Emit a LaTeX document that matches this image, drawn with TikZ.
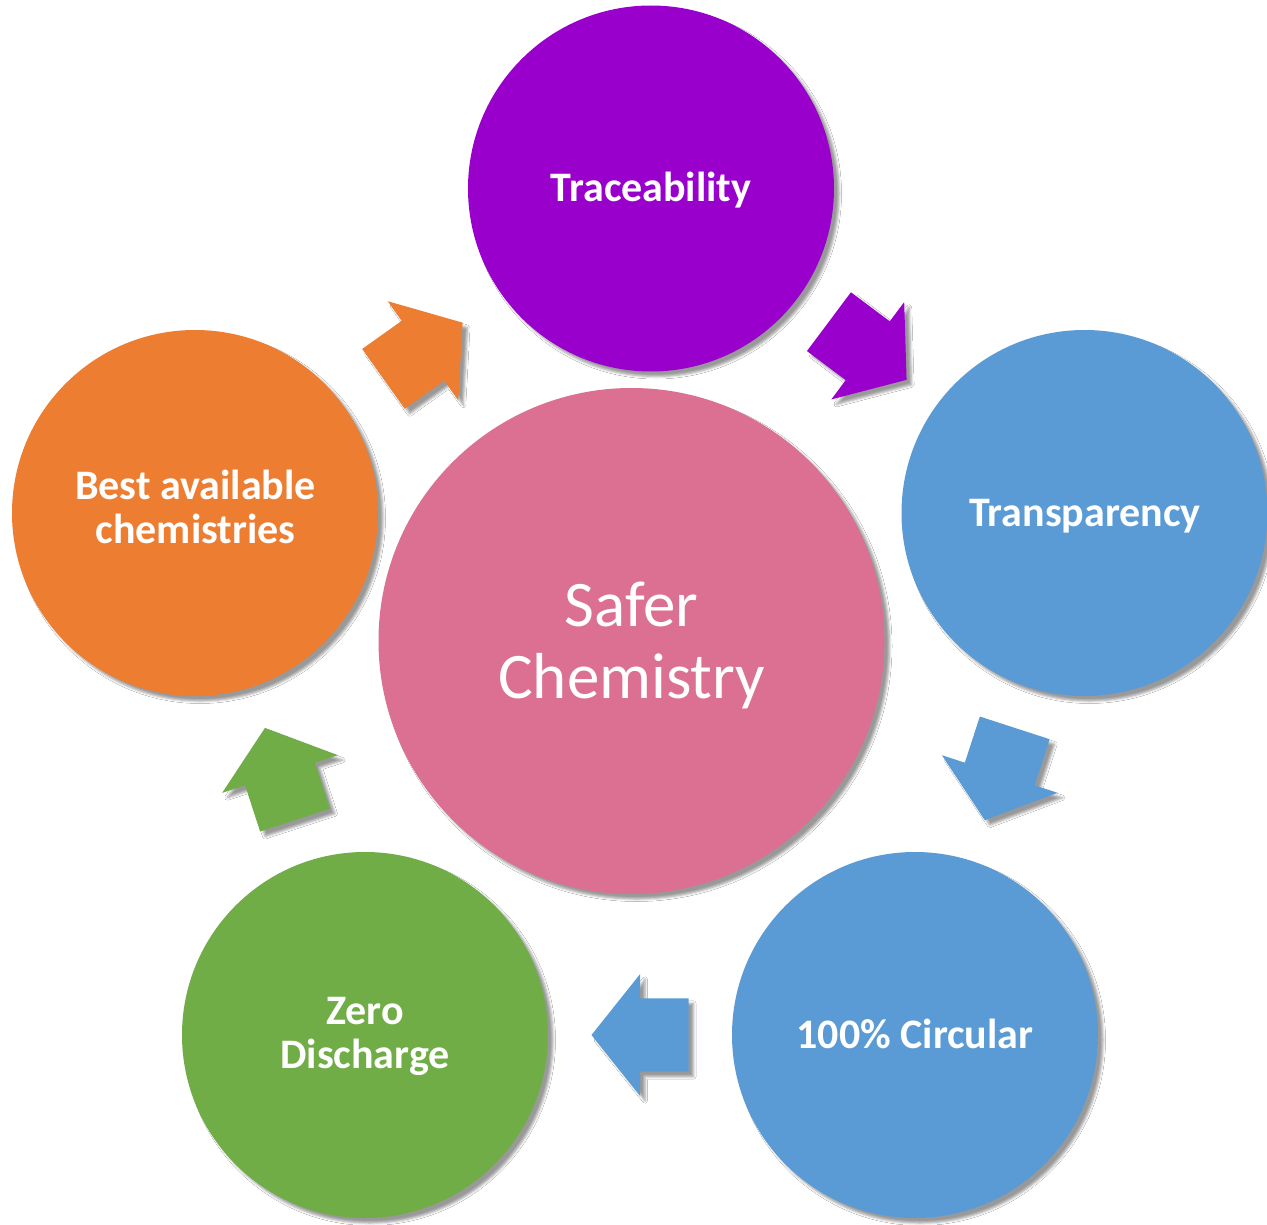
\documentclass[tikz,border=0pt]{standalone}
\usepackage{fontspec}
\setmainfont{Carlito}
\usetikzlibrary{calc,shadows.blur}
\definecolor{cpurple}{RGB}{153,0,204}
\definecolor{cblue}{RGB}{91,155,213}
\definecolor{corange}{RGB}{237,125,49}
\definecolor{cgreen}{RGB}{112,173,71}
\definecolor{cpink}{RGB}{219,112,147}
\tikzset{
  softshadow/.style={blur shadow={shadow xshift=5pt, shadow yshift=-5pt, shadow blur radius=2.5pt, shadow opacity=40}},
  outer/.style={circle, minimum size=366pt, inner sep=0pt, fill=#1, softshadow},
  inner/.style={circle, minimum size=506pt, inner sep=0pt, fill=#1, softshadow},
  lbl/.style={text=white, font=\fontsize{42}{44}\selectfont\bfseries, align=center, anchor=base, inner sep=0pt},
  biglbl/.style={text=white, font=\fontsize{65}{71.6}\selectfont, align=center, anchor=base, inner sep=0pt}
}
\newcommand\blockarrow[3]{%
  \coordinate (bm) at ($(#1)!0.5!(#2)$);
  \coordinate (bt) at ($(bm)!-48.5pt!(#2)$);
  \fill[#3, softshadow] ($(bm)!48.5pt!(#2)$) -- ($(bm)!60.8pt!90:(#2)$) -- ($(bm)!36.7pt!90:(#2)$)
     -- ($(bt)!36.7pt!90:(#2)$) -- ($(bt)!36.7pt!-90:(#2)$) -- ($(bm)!36.7pt!-90:(#2)$)
     -- ($(bm)!60.8pt!-90:(#2)$) -- cycle;
}
\begin{document}
\begin{tikzpicture}[x=1pt,y=-1pt]
\useasboundingbox[fill=white] (0,0) rectangle (1267,1225);
% outer circles
\node[outer=cpurple] (trace) at (651,188.5) {};
\node[outer=cblue] (transp) at (1084.5,513) {};
\node[outer=cblue] (circ) at (915,1035) {};
\node[outer=cgreen] (zero) at (365,1035) {};
\node[outer=corange] (best) at (195,513) {};
% centre circle
\node[inner=cpink] (safer) at (631.5,641) {};
% block arrows
\blockarrow{best}{trace}{corange}
\blockarrow{trace}{transp}{cpurple}
\blockarrow{transp}{circ}{cblue}
\blockarrow{circ}{zero}{cblue}
\blockarrow{zero}{best}{cgreen}
% labels (base anchor = baseline of the last line)
\node[lbl] (ltrace) at (651,201.7) {Traceability};
\node[lbl] (ltransp) at (1085,526.5) {Transparency};
\node[lbl] (lcirc) at (915,1048.5) {100\% Circular};
\node[lbl] (lzero) at (365,1068.3) {Zero\\Discharge};
\node[lbl] (lbest) at (195.5,543.3) {Best available\\chemistries};
\node[biglbl] (lsafer) at (631.7,698.3) {Safer\\Chemistry};
\end{tikzpicture}
\end{document}
